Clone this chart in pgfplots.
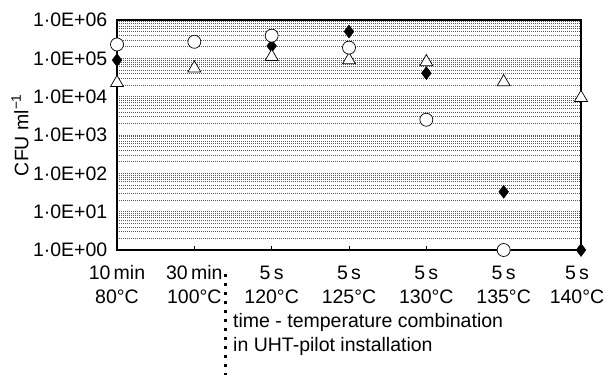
\documentclass[border=0pt]{standalone}
\usepackage{pgfplots}
\pgfplotsset{compat=1.18}
\usepackage{fontspec}
\setmainfont{Liberation Sans}
\begin{document}
\fontsize{19.5bp}{24bp}\selectfont
\begin{tikzpicture}
\path[use as bounding box] (0,0) rectangle (606bp,375bp);
\begin{axis}[
  at={(117bp,125bp)}, anchor=south west,
  scale only axis, width=464bp, height=230bp,
  ymode=log, log basis y=10,
  ymin=1, ymax=1e6, xmin=0, xmax=6,
  clip=false,
  axis line style={black, line width=1.2bp},
  xtick={0,1,2,3,4,5,6},
  xticklabels={{10\,min\\80°C},{30\,min\\100°C},{5\,s\\120°C},{5\,s\\125°C},{5\,s\\130°C},{5\,s\\135°C},{5\,s\hspace*{8bp}\\140°C\hspace*{8bp}}},
  xticklabel style={align=center, font=\fontsize{19.5bp}{24bp}\selectfont},
  xticklabel shift=9bp,
  xtick pos=lower, tick align=inside,
  major tick length=4bp,
  xtick style={black, line width=0.8bp},
  ytick={1,10,100,1000,10000,100000,1000000},
  minor ytick={2,3,4,5,6,7,8,9,20,30,40,50,60,70,80,90,200,300,400,500,600,700,800,900,2000,3000,4000,5000,6000,7000,8000,9000,20000,30000,40000,50000,60000,70000,80000,90000,200000,300000,400000,500000,600000,700000,800000,900000},
  yticklabels={1·0E+00,1·0E+01,1·0E+02,1·0E+03,1·0E+04,1·0E+05,1·0E+06},
  yticklabel style={font=\fontsize{19.5bp}{24bp}\selectfont, xshift=-3bp},
  ytick style={draw=none},
  minor tick length=0pt,
  ymajorgrids=true, yminorgrids=true,
  major grid style={gray!70!black, line width=0.7bp, dash pattern=on 1bp off 1bp},
  minor grid style={gray!70!black, line width=0.7bp, dash pattern=on 1bp off 1bp},
  ylabel={CFU ml\textsuperscript{\char"2212 1}},
  ylabel style={at={(rel axis cs:-0.209,0.5)}, anchor=center, font=\fontsize{19.5bp}{24bp}\selectfont},
]
\addplot[only marks, mark=diamond*, mark size=6.5bp, mark options={fill=black, draw=black}]
  coordinates {(0,9e4) (2,2.1e5) (3,5e5) (4,4.1e4) (5,33) (6,1)};
\addplot[only marks, mark=triangle*, mark size=7.5bp, mark options={fill=white, draw=black, line width=0.7bp}]
  coordinates {(0,2.3e4) (1,5.5e4) (2,1.1e5) (3,9e4) (4,8e4) (5,2.4e4) (6,9.4e3)};
\addplot[only marks, mark=*, mark size=6.5bp, mark options={fill=white, draw=black, line width=0.7bp}]
  coordinates {(0,2.3e5) (1,2.7e5) (2,3.9e5) (3,1.9e5) (4,2.5e3) (5,1)};
\draw[black, line width=3bp, dash pattern=on 3bp off 6bp] (rel axis cs:0.2328,-0.105) -- (rel axis cs:0.2328,-0.543);
\node[anchor=base west, inner sep=0pt, font=\fontsize{19.5bp}{24bp}\selectfont] at (rel axis cs:0.25,-0.339) {time - temperature combination};
\node[anchor=base west, inner sep=0pt, font=\fontsize{19.5bp}{24bp}\selectfont] at (rel axis cs:0.25,-0.443) {in UHT-pilot installation};
\end{axis}
\end{tikzpicture}
\end{document}
